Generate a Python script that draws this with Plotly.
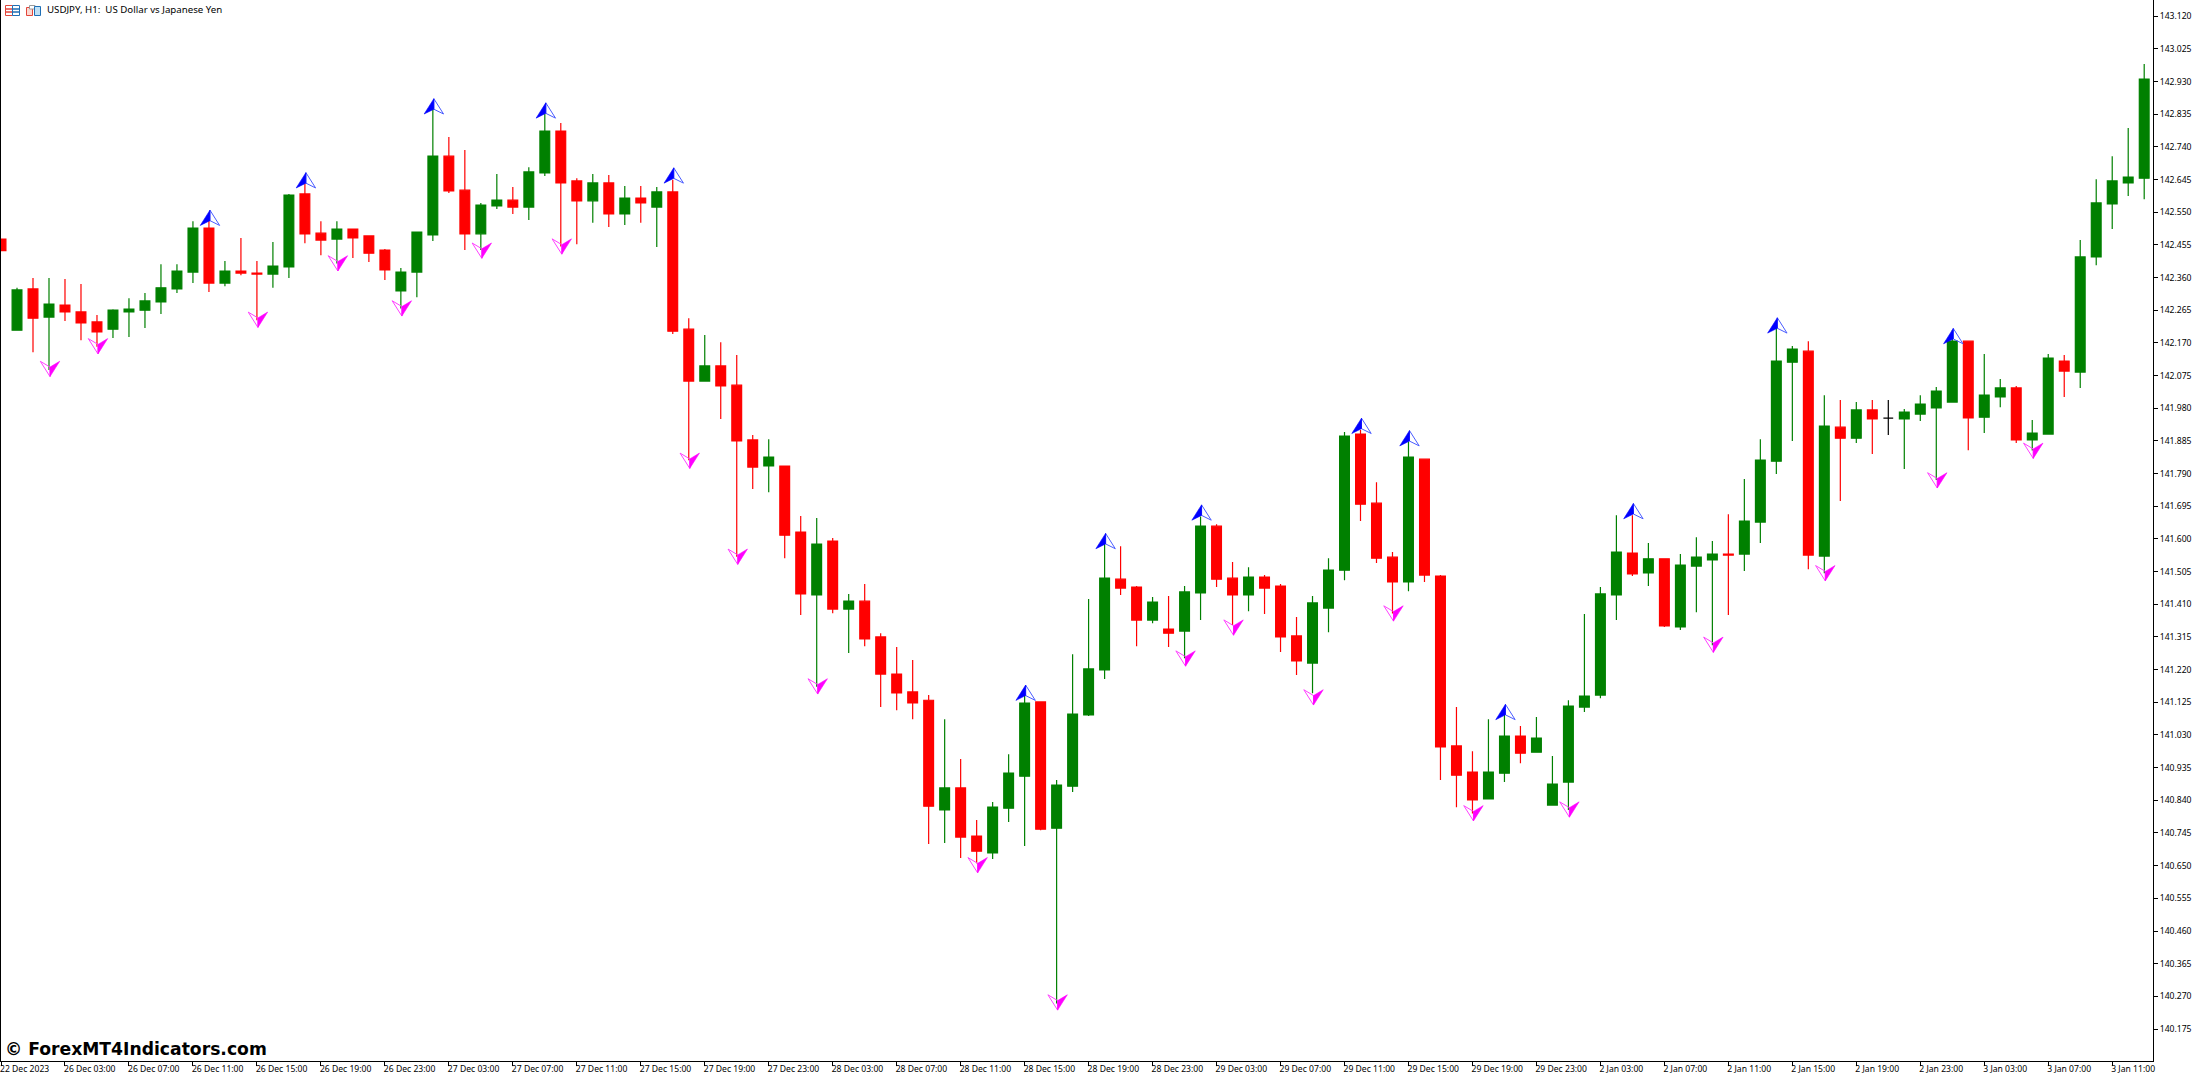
import plotly.graph_objects as go

OPEN = [142.472,142.207,142.327,142.245,142.280,142.260,142.231,142.210,142.260,142.265,
        142.289,142.327,142.376,142.504,142.344,142.379,142.373,142.370,142.391,142.603,
        142.489,142.472,142.501,142.481,142.440,142.321,142.376,142.484,142.713,142.614,
        142.487,142.568,142.585,142.565,142.664,142.786,142.641,142.583,142.635,142.545,
        142.591,142.565,142.609,142.210,142.059,142.103,142.047,141.888,141.812,141.812,
        141.620,141.437,141.594,141.396,141.419,141.315,141.207,141.155,141.131,140.812,
        140.876,140.736,140.687,140.817,140.910,141.126,140.759,140.881,141.088,141.219,
        141.483,141.460,141.364,141.338,141.332,141.443,141.637,141.486,141.437,141.489,
        141.463,141.318,141.239,141.399,141.509,141.905,141.704,141.547,141.475,141.832,
        141.492,140.998,140.922,140.844,140.919,141.027,140.980,140.826,140.893,141.111,
        141.146,141.437,141.559,141.501,141.542,141.344,141.521,141.539,141.556,141.556,
        141.649,141.826,142.114,142.146,141.550,141.925,141.893,141.975,141.951,141.949,
        141.963,141.981,141.998,142.175,141.954,142.013,142.039,141.888,141.905,142.117,
        142.085,142.420,142.574,142.635,142.649]
HIGH = [142.472,142.330,142.359,142.359,142.356,142.341,142.251,142.268,142.300,142.315,
        142.399,142.399,142.524,142.527,142.408,142.475,142.408,142.463,142.603,142.634,
        142.524,142.524,142.501,142.481,142.443,142.388,142.492,142.857,142.769,142.731,
        142.577,142.661,142.623,142.681,142.837,142.809,142.649,142.661,142.658,142.626,
        142.626,142.623,142.644,142.242,142.193,142.172,142.135,141.902,141.890,141.812,
        141.667,141.661,141.603,141.440,141.469,141.326,141.286,141.248,141.146,141.076,
        140.960,140.783,140.835,140.974,141.151,141.126,140.899,141.265,141.425,141.592,
        141.579,141.463,141.431,141.434,141.463,141.665,141.643,141.533,141.518,141.495,
        141.469,141.373,141.434,141.544,141.911,141.917,141.765,141.562,141.883,141.832,
        141.495,141.111,140.983,141.076,141.093,141.056,141.082,140.969,141.131,141.382,
        141.460,141.669,141.669,141.588,141.542,141.556,141.605,141.594,141.672,141.774,
        141.890,142.217,142.161,142.175,142.018,142.004,141.998,142.004,142.004,141.978,
        142.018,142.042,142.207,142.175,142.138,142.065,142.045,141.946,142.138,142.135,
        142.469,142.646,142.713,142.795,142.981]
LOW = [142.438,142.207,142.143,142.091,142.234,142.178,142.159,142.184,142.187,142.213,
       142.254,142.315,142.344,142.318,142.335,142.367,142.236,142.330,142.359,142.460,
       142.425,142.401,142.417,142.405,142.353,142.270,142.303,142.466,142.606,142.440,
       142.440,142.559,142.545,142.527,142.655,142.450,142.457,142.519,142.507,142.513,
       142.519,142.449,142.196,141.829,142.059,141.949,141.548,141.745,141.736,141.544,
       141.379,141.170,141.384,141.268,141.288,141.111,141.102,141.076,140.713,140.716,
       140.672,140.657,140.669,140.777,140.707,140.753,140.249,140.864,141.085,141.193,
       141.437,141.288,141.355,141.286,141.253,141.364,141.460,141.350,141.390,141.382,
       141.271,141.204,141.151,141.329,141.480,141.652,141.530,141.383,141.448,141.475,
       140.899,140.820,140.802,140.844,140.893,140.948,140.980,140.826,140.812,141.097,
       141.137,141.364,141.492,141.463,141.344,141.335,141.387,141.291,141.379,141.507,
       141.588,141.789,141.885,141.512,141.500,141.710,141.879,141.847,141.902,141.803,
       141.943,141.771,141.998,141.858,141.908,141.983,141.879,141.857,141.905,142.013,
       142.039,142.396,142.501,142.597,142.588]
CLOSE = [142.438,142.324,142.242,142.283,142.260,142.228,142.202,142.265,142.268,142.292,
         142.330,142.379,142.504,142.344,142.379,142.373,142.370,142.393,142.600,142.487,
         142.469,142.501,142.475,142.431,142.382,142.376,142.492,142.713,142.612,142.487,
         142.571,142.585,142.565,142.667,142.786,142.635,142.583,142.635,142.545,142.591,
         142.577,142.609,142.204,142.059,142.103,142.045,141.885,141.809,141.838,141.611,
         141.440,141.585,141.396,141.419,141.309,141.207,141.152,141.123,140.823,140.876,
         140.733,140.692,140.820,140.919,141.123,140.756,140.884,141.091,141.222,141.486,
         141.457,141.364,141.416,141.326,141.446,141.637,141.483,141.437,141.489,141.457,
         141.315,141.245,141.414,141.509,141.899,141.701,141.544,141.475,141.838,141.495,
         140.995,140.913,140.841,140.922,141.027,140.977,141.021,140.887,141.114,141.143,
         141.440,141.562,141.498,141.542,141.347,141.524,141.547,141.556,141.553,141.652,
         141.829,142.117,142.152,141.553,141.928,141.893,141.975,141.949,141.951,141.969,
         141.992,142.030,142.175,141.952,142.018,142.039,141.888,141.908,142.126,142.088,
         142.420,142.577,142.641,142.652,142.937]

UP_BAR = [13,19,27,34,42,64,69,75,85,88,94,102,111,122]
UP_PRICE = [142.556,142.665,142.880,142.868,142.679,141.175,141.616,141.699,141.951,141.915,
            141.119,141.703,142.243,142.212]
DOWN_BAR = [3,6,16,21,25,30,35,43,46,51,61,66,74,77,82,87,92,98,107,114,121,127]
DOWN_PRICE = [142.072,142.138,142.215,142.379,142.248,142.416,142.428,141.805,141.526,141.149,
              140.629,140.230,141.230,141.320,141.117,141.361,140.780,140.791,141.270,141.478,
              141.748,141.834]

PRICE_TICKS = [143.120,143.025,142.930,142.835,142.740,142.645,142.550,142.455,142.360,142.265,
               142.170,142.075,141.980,141.885,141.790,141.695,141.600,141.505,141.410,141.315,
               141.220,141.125,141.030,140.935,140.840,140.745,140.650,140.555,140.460,140.365,
               140.270,140.175]
TIME_LABELS = ["22 Dec 2023","26 Dec 03:00","26 Dec 07:00","26 Dec 11:00","26 Dec 15:00","26 Dec 19:00",
               "26 Dec 23:00","27 Dec 03:00","27 Dec 07:00","27 Dec 11:00","27 Dec 15:00","27 Dec 19:00",
               "27 Dec 23:00","28 Dec 03:00","28 Dec 07:00","28 Dec 11:00","28 Dec 15:00","28 Dec 19:00",
               "28 Dec 23:00","29 Dec 03:00","29 Dec 07:00","29 Dec 11:00","29 Dec 15:00","29 Dec 19:00",
               "29 Dec 23:00","2 Jan 03:00","2 Jan 07:00","2 Jan 11:00","2 Jan 15:00","2 Jan 19:00",
               "2 Jan 23:00","3 Jan 03:00","3 Jan 07:00","3 Jan 11:00"]
TITLE = "USDJPY, H1:  US Dollar vs Japanese Yen"
WATERMARK = "© ForexMT4Indicators.com"

W, H = 2192, 1080
ML, MR, MT, MB = 1, 39, 0, 19
PW, PH = W - ML - MR, H - MT - MB
FONT = "Noto Sans"
GREEN, RED = "#008000", "#ff0000"

bars = list(range(len(OPEN)))
regular = [i for i in bars if OPEN[i] != CLOSE[i]]
doji = [i for i in bars if OPEN[i] == CLOSE[i]]


def candle(idx, up, down):
    return go.Candlestick(
        x=idx,
        open=[OPEN[i] for i in idx],
        high=[HIGH[i] for i in idx],
        low=[LOW[i] for i in idx],
        close=[CLOSE[i] for i in idx],
        increasing=dict(line=dict(color=up, width=1.2), fillcolor=up),
        decreasing=dict(line=dict(color=down, width=1.2), fillcolor=down),
        whiskerwidth=0,
        showlegend=False,
        hoverinfo="skip",
    )


fig = go.Figure([candle(regular, GREEN, RED), candle(doji, "#000000", "#000000")])

shapes = []


def glyph(x, y, solid, outline, color, line):
    base = dict(type="path", xref="x", yref="y", xsizemode="pixel", ysizemode="pixel",
                xanchor=x, yanchor=y, layer="above")
    shapes.append(dict(base, path=outline, line=dict(color=line, width=1), fillcolor="rgba(0,0,0,0)"))
    shapes.append(dict(base, path=solid, line=dict(color=color, width=0.6), fillcolor=color))


for x, y in zip(UP_BAR, UP_PRICE):
    glyph(x, y, "M1,0 L-8.7,-15.3 L1,-10.5 Z", "M1,0 L10.7,-15.3 L1,-10.5 Z", "#0000ff", "#4a5cff")
for x, y in zip(DOWN_BAR, DOWN_PRICE):
    glyph(x, y, "M1,0 L10.7,15.3 L1,9.5 Z", "M1,0 L-8.7,15.3 L1,9.5 Z", "#ff00ff", "#ff40ff")


def px(x):
    return (x - ML) / PW


def py(y):
    return (H - MB - y) / PH


def rect(x0, y0, x1, y1, line=None, fill=None):
    shapes.append(dict(type="rect", xref="paper", yref="paper", x0=px(x0), x1=px(x1), y0=py(y0), y1=py(y1),
                       line=dict(color=line, width=1) if line else dict(width=0),
                       fillcolor=fill or "rgba(0,0,0,0)", layer="above"))


# toolbar-style icons beside the chart title
rect(5.5, 5.5, 12.5, 15.5, line="#e2453a", fill="#ffffff")
rect(12.5, 5.5, 19.5, 15.5, line="#1f6fb5", fill="#ffffff")
for yy in (9, 12):
    rect(6, yy, 12, yy, line="#e2453a")
    rect(13, yy, 19, yy, line="#1f6fb5")
rect(26.5, 7.5, 32.5, 15.5, line="#e2453a", fill="#fcd9d2")
rect(29.5, 5.5, 35, 9, line="#9a9a9a", fill="#ffffff")
rect(34.5, 6.5, 40.5, 15.5, line="#1f6fb5", fill="#bfe0f5")

fig.update_layout(
    width=W, height=H, autosize=False,
    margin=dict(l=ML, r=MR, t=MT, b=MB, pad=0),
    paper_bgcolor="#ffffff", plot_bgcolor="#ffffff",
    boxgap=0.3875, boxgroupgap=0, boxmode="overlay",
    font=dict(family=FONT, size=9, color="#000000"),
    shapes=shapes,
    showlegend=False,
    xaxis=dict(
        range=[-0.001, 134.55],
        rangeslider=dict(visible=False),
        tickmode="array", tickvals=list(range(0, 4 * len(TIME_LABELS), 4)), ticktext=TIME_LABELS,
        ticks="outside", ticklen=4, tickwidth=1, tickcolor="#000000",
        ticklabelposition="outside right", ticklabelshift=-2,
        showgrid=False, zeroline=False,
        showline=True, linecolor="#000000", linewidth=1,
        tickfont=dict(family=FONT, size=8.6, color="#000000"), tickangle=0,
    ),
    yaxis=dict(
        side="right",
        range=[140.082, 143.167],
        tickmode="array", tickvals=PRICE_TICKS, tickformat=".3f",
        ticks="outside", ticklen=4, tickwidth=1, tickcolor="#000000",
        showgrid=False, zeroline=False,
        showline=True, mirror=True, linecolor="#000000", linewidth=1,
        tickfont=dict(family=FONT, size=8.6, color="#000000"),
    ),
    annotations=[
        dict(text=TITLE, xref="paper", yref="paper", x=px(45), y=py(10), xanchor="left", yanchor="middle",
             showarrow=False, font=dict(family=FONT, size=9.7, color="#000000")),
        dict(text=WATERMARK, xref="paper", yref="paper", x=px(2.5), y=py(1048.5), xanchor="left", yanchor="middle",
             showarrow=False, font=dict(family="DejaVu Sans", size=17.2, color="#000000", weight="bold")),
    ],
)

fig.write_html("out.html", config=dict(displayModeBar=False),
               post_script="document.body.style.margin='0';")
